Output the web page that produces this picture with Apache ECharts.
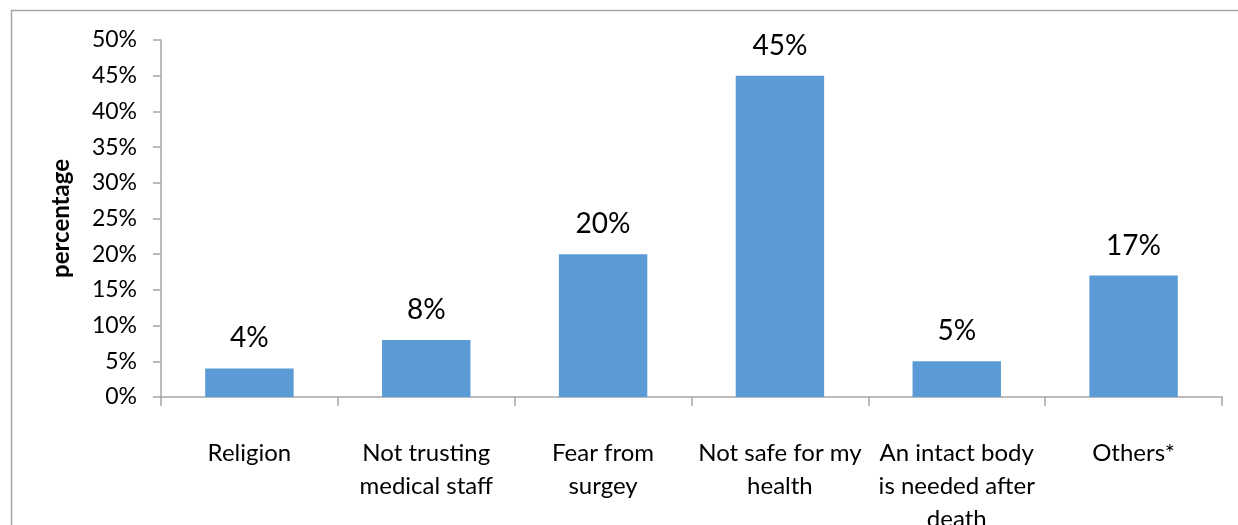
<!DOCTYPE html>
<html><head><meta charset="utf-8">
<script src="https://cdn.jsdelivr.net/npm/echarts@6/dist/echarts.min.js"></script>
<style>html,body{margin:0;padding:0;background:#fff;}#c{width:1238px;height:525px;}</style>
</head><body><div id="c"></div>
<script>
const categories = ['Religion', 'Not trusting\nmedical staff', 'Fear from\nsurgey', 'Not safe for my\nhealth', 'An intact body\nis needed after\ndeath', 'Others*'];
const values = [4, 8, 20, 45, 5, 17];
const yTicks = [0, 5, 10, 15, 20, 25, 30, 35, 40, 45, 50];
const font = 'Lato, "Open Sans", sans-serif';
const chart = echarts.init(document.getElementById('c'));
chart.setOption({
  animation: false,
  graphic: [{type: 'rect', shape: {x: 11.5, y: 10.5, width: 1240, height: 530}, style: {fill: 'none', stroke: '#a6a6a6', lineWidth: 1.5}, z: -1}],
  grid: {left: 161, right: 16, top: 40, bottom: 128, containLabel: false, outerBoundsMode: 'none'},
  xAxis: {
    type: 'category', data: categories,
    axisLine: {lineStyle: {color: '#a6a6a6', width: 1.5}},
    axisTick: {show: true, alignWithLabel: false, length: 9, lineStyle: {color: '#a6a6a6', width: 1.5}},
    axisLabel: {color: '#000', fontSize: 24, fontFamily: font, margin: 40, lineHeight: 33, interval: 0, hideOverlap: false}
  },
  yAxis: {
    type: 'value', min: yTicks[0], max: yTicks[yTicks.length - 1], interval: 5,
    name: 'percentage', nameLocation: 'middle', nameGap: 88,
    nameTextStyle: {color: '#000', fontSize: 24, fontWeight: 'bold', fontFamily: font},
    axisLine: {show: true, lineStyle: {color: '#a6a6a6', width: 1.5}},
    axisTick: {show: true, length: 8, lineStyle: {color: '#a6a6a6', width: 1.5}},
    splitLine: {show: false},
    axisLabel: {color: '#000', fontSize: 23, fontFamily: font, margin: 24, formatter: v => v + '%'}
  },
  series: [{
    type: 'bar', data: values, barWidth: '50%',
    itemStyle: {color: '#5b9bd5'},
    label: {show: true, position: 'top', distance: 16, color: '#000', fontSize: 28, lineHeight: 28, fontFamily: font, formatter: p => p.value + '%'}
  }]
});
</script></body></html>
